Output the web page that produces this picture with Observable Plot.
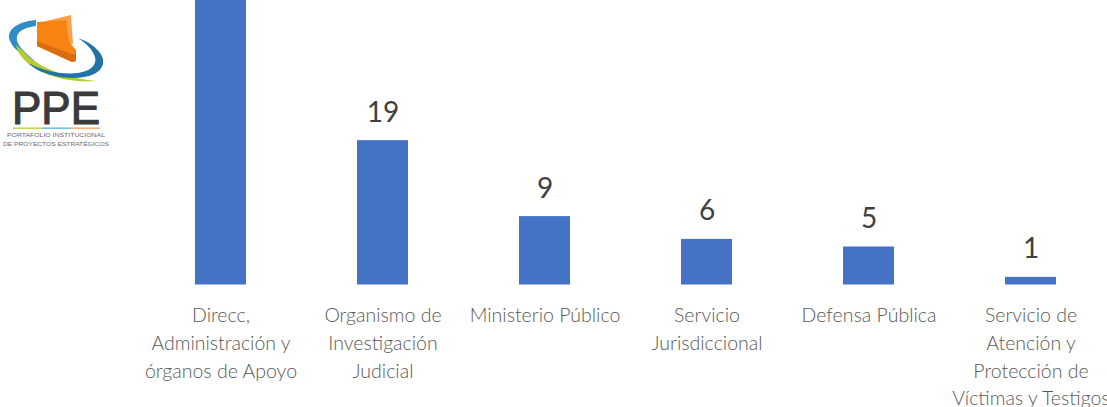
<!DOCTYPE html>
<html>
<head>
<meta charset="utf-8">
<script src="https://cdn.jsdelivr.net/npm/d3@7"></script>
<script src="https://cdn.jsdelivr.net/npm/@observablehq/plot@0.6"></script>
<style>
html,body{margin:0;padding:0;background:#fff;overflow:hidden}
#wrap{position:relative;width:1107px;height:407px}
#chart svg{position:absolute;left:0;top:0}
#logo{position:absolute;left:0;top:0}
</style>
</head>
<body>
<div id="wrap">
<div id="chart"></div>
<svg id="logo" width="125" height="155" viewBox="0 0 125 155">
  <path d="M36 20 C14 22 6 32 10 41 C14 50 24 57 36 62 C24 52 15 44 17 36 C19 30 27 27 36 26 Z" fill="#2f8fc4"/>
  <path d="M16 45 C20 66 54 84 97 81 C70 79 38 68 24 52 Z" fill="#b7cc2f"/>
  <path d="M78 38 C95 44 105 55 103 64 C100 76 82 80 60 77 C44 74 34 69 28 63 C42 70 60 75 78 73 C91 71 97 65 95 57 C93 50 87 44 78 38 Z" fill="#2274a8"/>
  <path d="M46 21 L71 15 L73 44 L46 44 Z" fill="#f7a24b"/>
  <path d="M37 22 L66 20 L69 42 L76 50 L76 61 L72 62 L37 46 Z" fill="#f98312"/>
  <path d="M37 41 L74 55 L76 52 L76 61 L72 62 L37 46 Z" fill="#d96d12"/>
  <text x="56" y="124" text-anchor="middle" font-family="Liberation Sans" font-size="46" textLength="88" lengthAdjust="spacingAndGlyphs" stroke="#3b3b3d" stroke-width="1.2" fill="#3b3b3d">PPE</text>
  <rect x="13" y="127.5" width="29" height="1.3" fill="#b7cc2f"/>
  <rect x="42" y="127.5" width="29" height="1.3" fill="#4fb3dc"/>
  <rect x="71" y="127.5" width="29" height="1.3" fill="#f7a24b"/>
  <text x="56" y="137" text-anchor="middle" font-family="Liberation Sans" font-size="6" textLength="98" lengthAdjust="spacingAndGlyphs" fill="#6a6b6f">PORTAFOLIO INSTITUCIONAL</text>
  <text x="56" y="146" text-anchor="middle" font-family="Liberation Sans" font-size="6" textLength="106" lengthAdjust="spacingAndGlyphs" fill="#6a6b6f">DE PROYECTOS ESTRATÉGICOS</text>
</svg>
</div>
<script>
const categories = [
  "Direcc,\nAdministración y\nórganos de Apoyo",
  "Organismo de\nInvestigación\nJudicial",
  "Ministerio Público",
  "Servicio\nJurisdiccional",
  "Defensa Pública",
  "Servicio de\nAtención y\nProtección de\nVíctimas y Testigos"
];
// First bar runs past the top of the picture; its value is an estimate.
const values = [45, 19, 9, 6, 5, 1];
const rows = categories.map((category, i) => ({category, value: values[i]}));
const yMax = 37.45;

const chart = Plot.plot({
  width: 1107,
  height: 407,
  marginLeft: 0, marginRight: 0, marginTop: 0, marginBottom: 0,
  style: {background: "transparent", overflow: "hidden"},
  x: {domain: categories, range: [138.3, 1112.7], paddingInner: 0.686, paddingOuter: 0.343, align: 0.5, axis: null},
  y: {domain: [0, yMax], range: [284.5, 0], axis: null},
  marks: [
    Plot.barY(rows, {x: "category", y: "value", fill: "#4472c4", clip: true}),
    Plot.ruleY([0], {x1: 138.3, stroke: "#d9d9d9", strokeWidth: 1.5}),
    Plot.text(rows.filter(d => d.value <= yMax), {
      x: "category", y: "value", text: d => String(d.value),
      dy: -28, fontSize: 28, fontFamily: "Lato", fill: "#404040"
    }),
    Plot.text(rows, {
      x: "category", y: 0, text: "category", lineAnchor: "top", dy: 17.5,
      lineHeight: 1.42, fontSize: 19.5, fontFamily: "Lato", fontWeight: 300, fill: "#595959"
    })
  ]
});
document.getElementById("chart").appendChild(chart);
</script>
</body>
</html>
